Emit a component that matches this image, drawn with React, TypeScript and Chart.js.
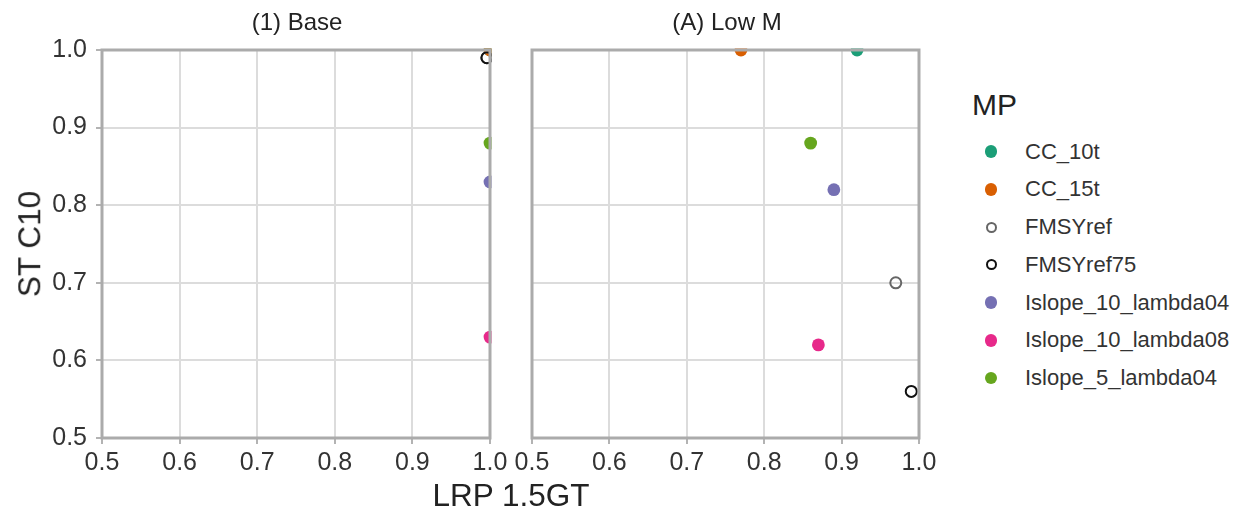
import React, { useEffect, useRef } from "react";
import { Chart, registerables } from "chart.js";

Chart.register(...registerables);

// Management procedures (legend order) and their styling
const mpNames = [
  "CC_10t",
  "CC_15t",
  "FMSYref",
  "FMSYref75",
  "Islope_10_lambda04",
  "Islope_10_lambda08",
  "Islope_5_lambda04",
];
const mpColors = ["#1B9E77", "#D95F02", "#666666", "#111111", "#7570B3", "#E7298A", "#66A61E"];
const mpFilled = [true, true, false, false, true, true, true];

// Scenario (1) Base: LRP 1.5GT (x) and ST C10 (y)
const baseLRP = [1.0, 1.0, 0.996, 0.996, 1.0, 1.0, 1.0];
const baseSTC10 = [1.0, 1.0, 0.99, 0.99, 0.83, 0.63, 0.88];

// Scenario (A) Low M
const lowMLRP = [0.92, 0.77, 0.97, 0.99, 0.89, 0.87, 0.86];
const lowMSTC10 = [1.0, 1.0, 0.7, 0.56, 0.82, 0.62, 0.88];

const axisTicks = [0.5, 0.6, 0.7, 0.8, 0.9, 1.0];

const FONT = "'Liberation Sans', Arial, Helvetica, sans-serif";
const TICK_COLOR = "#333333";
const TICK_SIZE = 25;

// Grey frame around each facet panel, drawn over the points
const panelFrame = {
  id: "panelFrame",
  afterDatasetsDraw(chart: any) {
    const { ctx, chartArea: a } = chart;
    ctx.save();
    ctx.strokeStyle = "#ababab";
    ctx.lineWidth = 3;
    ctx.strokeRect(a.left, a.top, a.right - a.left, a.bottom - a.top);
    ctx.restore();
  },
};

type PanelProps = {
  xs: number[];
  ys: number[];
  showYLabels: boolean;
  left: number;
  width: number;
  yAxisWidth: number;
  padRight: number;
};

function Panel({ xs, ys, showYLabels, left, width, yAxisWidth, padRight }: PanelProps) {
  const ref = useRef<HTMLCanvasElement | null>(null);

  useEffect(() => {
    if (!ref.current) return;
    const n = mpNames.length;
    const chart = new Chart(ref.current, {
      type: "scatter",
      data: {
        datasets: mpNames.map((name, i) => ({
          label: name,
          data: [{ x: xs[i], y: ys[i] }],
          pointRadius: mpFilled[i] ? 6.4 : 5.5,
          pointHoverRadius: mpFilled[i] ? 6.4 : 5.5,
          pointBackgroundColor: mpFilled[i] ? mpColors[i] : "rgba(0,0,0,0)",
          pointBorderColor: mpColors[i],
          pointBorderWidth: mpFilled[i] ? 0 : 2,
          clip: 1.5,
          order: n - i,
        })),
      },
      options: {
        responsive: false,
        maintainAspectRatio: false,
        animation: false,
        events: [],
        layout: { padding: { top: 50, right: padRight, left: 0, bottom: 0 } },
        plugins: {
          legend: { display: false },
          tooltip: { enabled: false },
          title: { display: false },
        },
        scales: {
          x: {
            type: "linear",
            min: 0.5,
            max: 1.0,
            afterBuildTicks: (s: any) => {
              s.ticks = axisTicks.map((v) => ({ value: v }));
            },
            afterFit: (s: any) => {
              s.height = 74;
              s.paddingLeft = 0;
              s.paddingRight = 0;
            },
            ticks: {
              autoSkip: false,
              maxRotation: 0,
              padding: 4,
              color: TICK_COLOR,
              font: { family: FONT, size: TICK_SIZE },
              callback: (v: any) => Number(v).toFixed(1),
            },
            grid: {
              color: "#dcdcdc",
              lineWidth: 2,
              tickLength: 6,
              tickColor: "#9a9a9a",
              tickWidth: 1.5,
            },
            border: { display: false },
          },
          y: {
            type: "linear",
            min: 0.5,
            max: 1.0,
            afterBuildTicks: (s: any) => {
              s.ticks = axisTicks.map((v) => ({ value: v }));
            },
            afterFit: (s: any) => {
              s.width = yAxisWidth;
              s.paddingTop = 0;
              s.paddingBottom = 0;
            },
            ticks: {
              display: showYLabels,
              padding: 9,
              color: TICK_COLOR,
              font: { family: FONT, size: TICK_SIZE },
              callback: (v: any) => Number(v).toFixed(1),
            },
            grid: {
              color: "#dcdcdc",
              lineWidth: 2,
              drawTicks: showYLabels,
              tickLength: 6,
              tickColor: "#9a9a9a",
              tickWidth: 1.5,
            },
            border: { display: false },
          },
        },
      },
      plugins: [panelFrame],
    } as any);
    return () => chart.destroy();
  }, [xs, ys, showYLabels, yAxisWidth, padRight]);

  return (
    <canvas
      ref={ref}
      width={width}
      height={512}
      style={{ position: "absolute", left, top: 0, width, height: 512 }}
    />
  );
}

const textBase: React.CSSProperties = {
  position: "absolute",
  fontFamily: FONT,
  lineHeight: 1,
  whiteSpace: "nowrap",
  transform: "translate(-50%, -50%)",
};

export default function App() {
  useEffect(() => {
    document.body.style.margin = "0";
    document.body.style.background = "#ffffff";
  }, []);

  return (
    <div style={{ position: "relative", width: 1246, height: 512, background: "#fff", overflow: "hidden" }}>
      <Panel xs={baseLRP} ys={baseSTC10} showYLabels={true} left={0} width={510} yAxisWidth={102} padRight={20} />
      <Panel xs={lowMLRP} ys={lowMSTC10} showYLabels={false} left={510} width={430} yAxisWidth={22} padRight={21} />

      <div style={{ ...textBase, left: 297, top: 22, fontSize: 24, color: "#222" }}>(1) Base</div>
      <div style={{ ...textBase, left: 727, top: 22, fontSize: 24, color: "#222" }}>(A) Low M</div>

      <div style={{ ...textBase, left: 511, top: 496, fontSize: 31.5, color: "#222" }}>LRP 1.5GT</div>
      <div
        style={{
          ...textBase,
          left: 30,
          top: 244,
          fontSize: 31.5,
          color: "#222",
          transform: "translate(-50%, -50%) rotate(-90deg)",
        }}
      >
        ST C10
      </div>

      <div style={{ position: "absolute", left: 972, top: 105, fontFamily: FONT, fontSize: 30, lineHeight: 1, color: "#222", transform: "translateY(-50%)" }}>
        MP
      </div>
      {mpNames.map((name, i) => {
        const cy = 151.7 + 37.75 * i;
        const filled = mpFilled[i];
        const d = filled ? 12.6 : 11;
        return (
          <React.Fragment key={name}>
            <div
              style={{
                position: "absolute",
                left: 991 - d / 2,
                top: cy - d / 2,
                width: d,
                height: d,
                boxSizing: "border-box",
                borderRadius: "50%",
                background: filled ? mpColors[i] : "transparent",
                border: filled ? "none" : `2px solid ${mpColors[i]}`,
              }}
            />
            <div
              style={{
                position: "absolute",
                left: 1025,
                top: cy,
                fontFamily: FONT,
                fontSize: 22,
                lineHeight: 1,
                color: "#333",
                whiteSpace: "nowrap",
                transform: "translateY(-50%)",
              }}
            >
              {name}
            </div>
          </React.Fragment>
        );
      })}
    </div>
  );
}
